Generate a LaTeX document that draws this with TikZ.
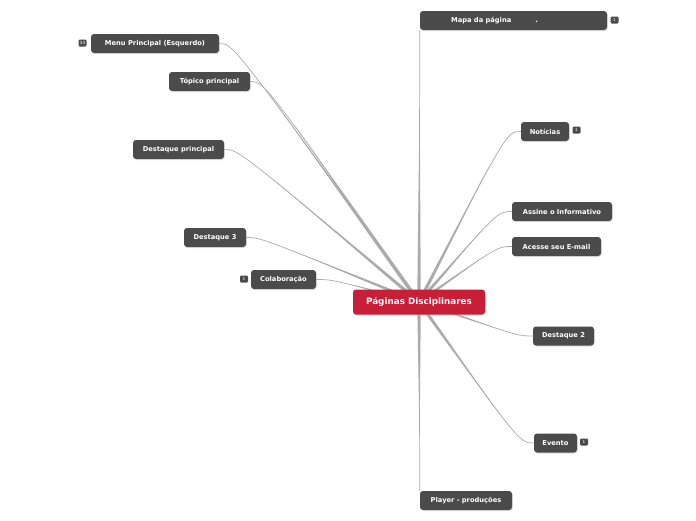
\documentclass[tikz,border=0pt]{standalone}
\usepackage{fontspec}
\setmainfont{DejaVu Sans}
\usetikzlibrary{calc,shadows}
\definecolor{nodegray}{HTML}{4B4B4B}
\definecolor{hubred}{HTML}{C61F37}
\definecolor{linkgray}{HTML}{ABABAB}
\pgfdeclarelayer{bg}
\pgfsetlayers{bg,main}
\tikzset{
  box/.style={draw=none, fill=nodegray, text=white, rounded corners=3pt,
    font=\bfseries\fontsize{6.7}{8}\selectfont, minimum height=19pt, inner sep=0pt,
    drop shadow={shadow xshift=0.8pt, shadow yshift=-1pt, fill=black!22}},
  hubbox/.style={box, fill=hubred, font=\bfseries\fontsize{8.8}{10}\selectfont, minimum height=25pt, minimum width=132pt},
  badge/.style={fill=nodegray, text=white, rounded corners=1.2pt, inner sep=0pt,
    minimum width=8pt, minimum height=7pt, font=\fontsize{4.2}{4.2}\selectfont},
}
\newcommand\mmlink[2]{%
  \coordinate (cp) at ($(#1)+#2$);
  \fill[linkgray] ($(hub)!1.8pt!90:(cp)$) -- ($(hub)!0.8!(cp)$) -- ($(hub)!1.8pt!-90:(cp)$) -- cycle;
  \draw[linkgray, line width=0.7pt] (hub) .. controls (cp) .. (#1);
}
\begin{document}
\begin{tikzpicture}[x=1pt,y=-1pt]
\useasboundingbox (0,0) rectangle (696,520);
\node[hubbox] (hub) at (419,302) {Páginas Disciplinares};
\node[box, minimum width=187pt] (mapa) at (513.5,20.5) {Mapa da página\hspace{24pt}.\hspace*{38pt}\null};
\node[box, minimum width=128pt] (menu) at (155,43.5) {Menu Principal (Esquerdo)};
\node[box, minimum width=81pt] (topico) at (209.5,81.5) {Tópico principal};
\node[box, minimum width=91pt] (dprin) at (178.5,149.5) {Destaque principal};
\node[box, minimum width=62pt] (d3) at (215,237.5) {Destaque 3};
\node[box, minimum width=65pt] (colab) at (283.5,279.5) {Colaboração};
\node[box, minimum width=48pt] (noticias) at (545,131.5) {Notícias};
\node[box, minimum width=100pt] (assine) at (562,211.5) {Assine o Informativo};
\node[box, minimum width=89pt] (acesse) at (556.5,246.5) {Acesse seu E-mail};
\node[box, minimum width=61pt] (d2) at (563.5,336) {Destaque 2};
\node[box, minimum width=43pt] (evento) at (555.5,443) {Evento};
\node[box, minimum width=92pt] (player) at (466,500.5) {Player - produções};
% badges
\node[badge] (bmapa) at (614.5,20) {1};
\node[badge] (bmenu) at (82.5,43) {33};
\node[badge] (bcolab) at (244,279) {1};
\node[badge] (bnot) at (576.5,130) {1};
\node[badge] (bev) at (584,442) {1};
% links under nodes
\begin{pgfonlayer}{bg}
\mmlink{mapa.south west}{(0,12)}
\mmlink{menu.east}{(14,0)}
\mmlink{topico.east}{(14,0)}
\mmlink{dprin.east}{(14,0)}
\mmlink{d3.east}{(14,0)}
\mmlink{colab.east}{(14,0)}
\mmlink{noticias.west}{(-14,0)}
\mmlink{assine.west}{(-14,0)}
\mmlink{acesse.west}{(-14,0)}
\mmlink{d2.west}{(-14,0)}
\mmlink{evento.west}{(-14,0)}
\mmlink{player.north west}{(0,-12)}
\end{pgfonlayer}
\end{tikzpicture}
\end{document}
